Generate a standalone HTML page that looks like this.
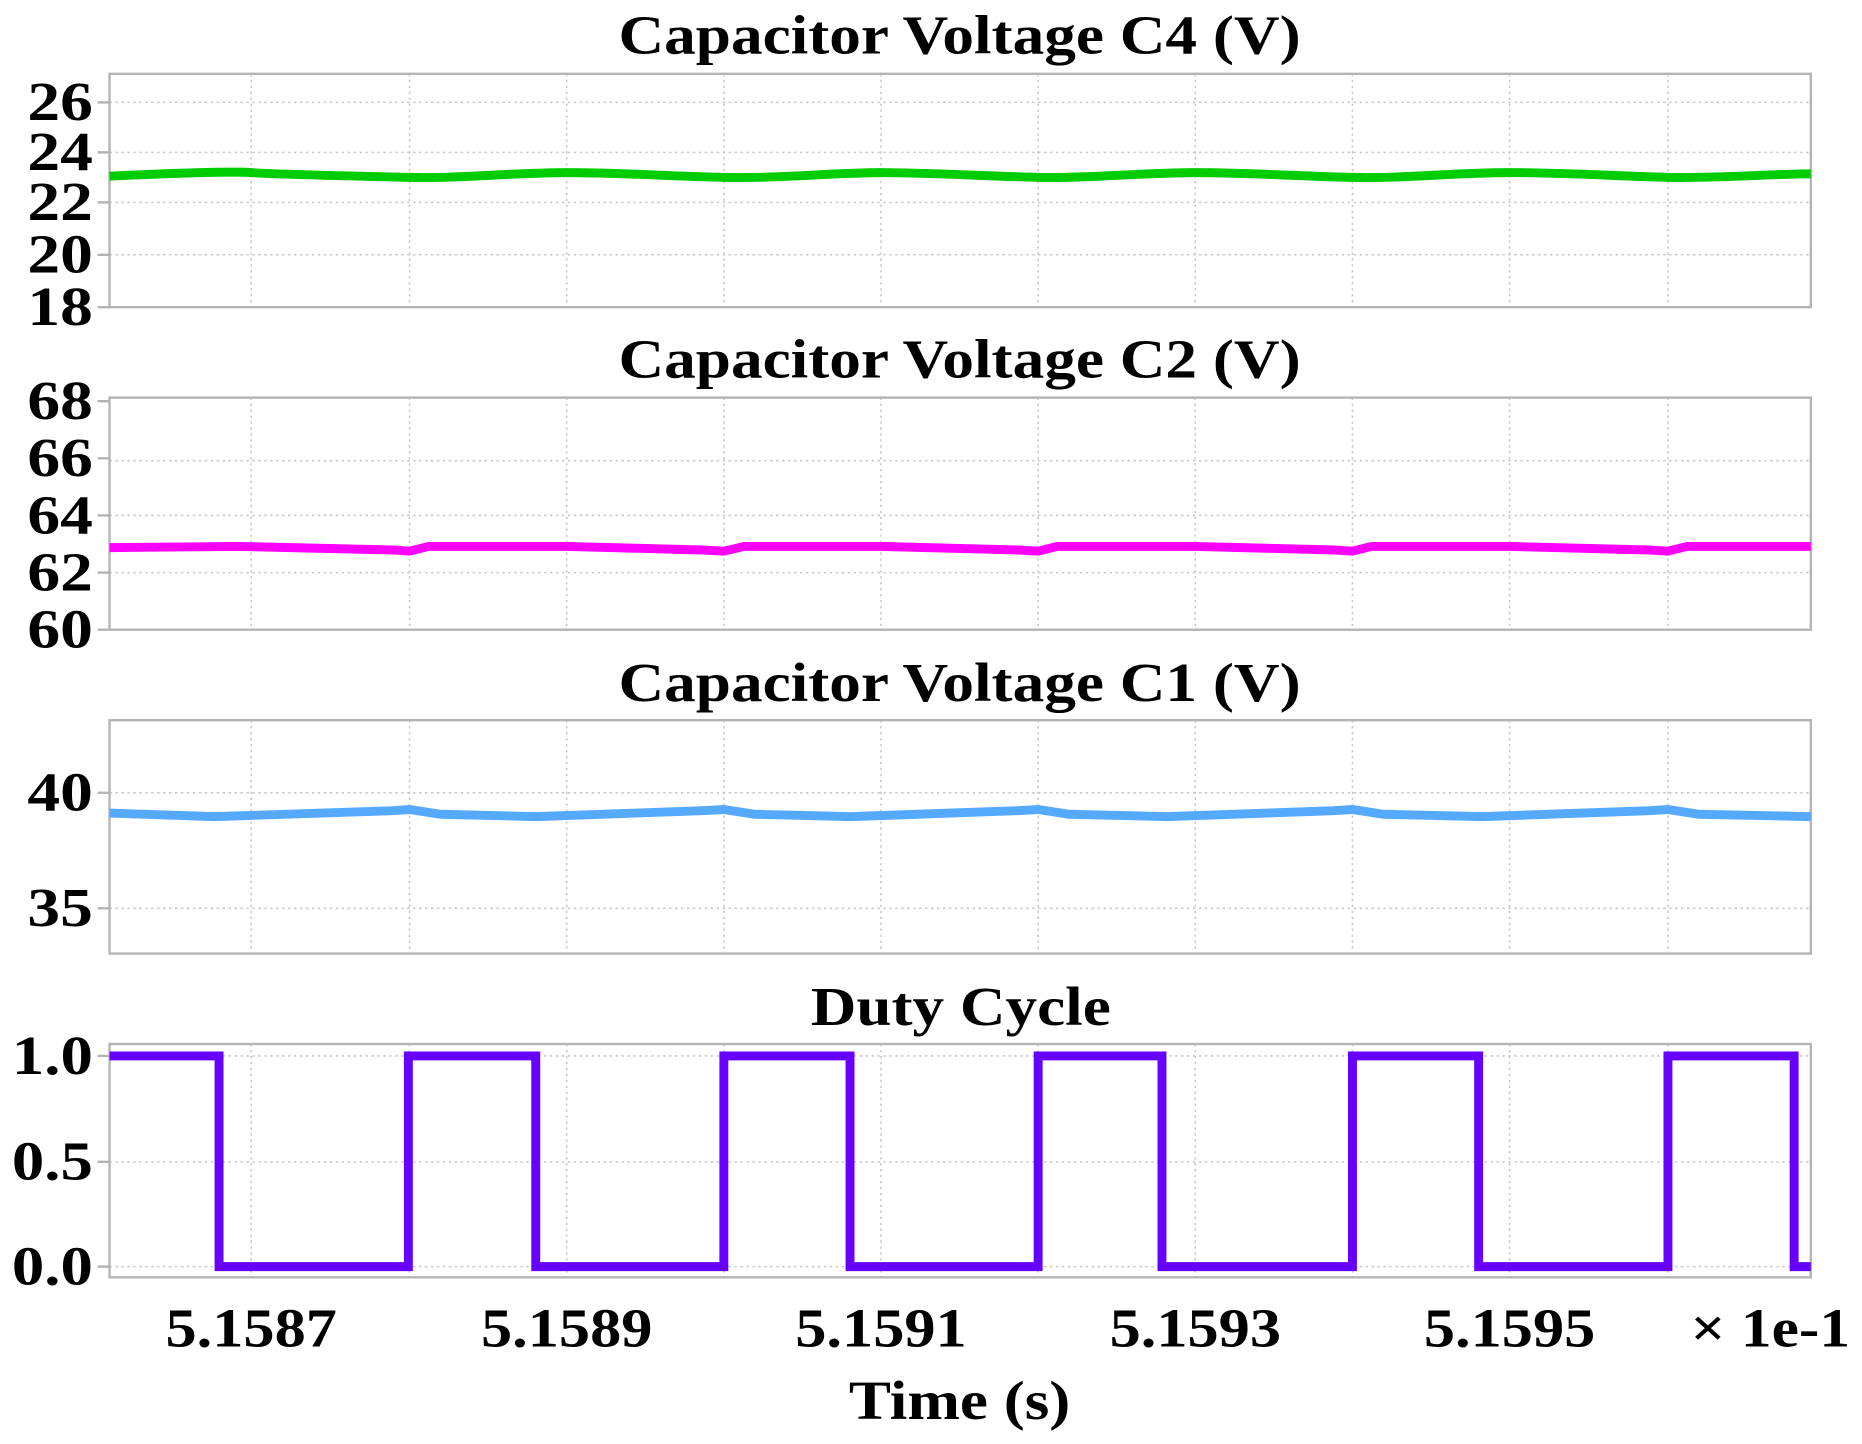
<!DOCTYPE html>
<html><head><meta charset="utf-8"><style>html,body{margin:0;padding:0;background:#fff}svg{display:block}</style></head>
<body>
<svg width="1862" height="1444" viewBox="0 0 1564 1213" preserveAspectRatio="none" xmlns="http://www.w3.org/2000/svg" font-family="Liberation Serif, serif" font-weight="bold">
<g font-size="46" text-anchor="middle" fill="#000" lengthAdjust="spacingAndGlyphs">
<text x="806" y="45" textLength="573" lengthAdjust="spacingAndGlyphs">Capacitor Voltage C4 (V)</text>
<text x="806" y="317" textLength="573" lengthAdjust="spacingAndGlyphs">Capacitor Voltage C2 (V)</text>
<text x="806" y="589" textLength="573" lengthAdjust="spacingAndGlyphs">Capacitor Voltage C1 (V)</text>
<text x="807" y="861" textLength="252" lengthAdjust="spacingAndGlyphs">Duty Cycle</text>
<text x="806" y="1192" textLength="186" lengthAdjust="spacingAndGlyphs">Time (s)</text>
</g>
<g stroke="#c8c8c8" stroke-width="1.3" stroke-dasharray="2,3">
<path d="M92 86H1521M92 128H1521M92 170H1521M92 214H1521"/>
<path d="M92 387H1521M92 433H1521M92 481H1521"/>
<path d="M92 666H1521M92 763H1521"/>
<path d="M92 887H1521M92 976H1521M92 1064H1521"/>
<path d="M211 62V258M344 62V258M476 62V258M608 62V258M740 62V258M872 62V258M1004 62V258M1136 62V258M1268 62V258M1401 62V258"/>
<path d="M211 334V529M344 334V529M476 334V529M608 334V529M740 334V529M872 334V529M1004 334V529M1136 334V529M1268 334V529M1401 334V529"/>
<path d="M211 605V801M344 605V801M476 605V801M608 605V801M740 605V801M872 605V801M1004 605V801M1136 605V801M1268 605V801M1401 605V801"/>
<path d="M211 877V1073M344 877V1073M476 877V1073M608 877V1073M740 877V1073M872 877V1073M1004 877V1073M1136 877V1073M1268 877V1073M1401 877V1073"/>
</g>
<g fill="none" stroke="#b4b4b4" stroke-width="2">
<rect x="92" y="62" width="1429" height="196"/>
<rect x="92" y="334" width="1429" height="195"/>
<rect x="92" y="605" width="1429" height="196"/>
<rect x="92" y="877" width="1429" height="196"/>
<path d="M82 86H92M82 128H92M82 170H92M82 214H92M82 258H92M82 337H92M82 385H92M82 433H92M82 481H92M82 529H92M82 666H92M82 763H92M82 887H92M82 976H92M82 1064H92"/>
</g>
<g font-size="46" text-anchor="end" fill="#000">
<text x="78" y="101" textLength="55" lengthAdjust="spacingAndGlyphs">26</text><text x="78" y="143" textLength="55" lengthAdjust="spacingAndGlyphs">24</text><text x="78" y="185" textLength="55" lengthAdjust="spacingAndGlyphs">22</text><text x="78" y="229" textLength="55" lengthAdjust="spacingAndGlyphs">20</text><text x="78" y="273" textLength="55" lengthAdjust="spacingAndGlyphs">18</text>
<text x="78" y="352" textLength="55" lengthAdjust="spacingAndGlyphs">68</text><text x="78" y="400" textLength="55" lengthAdjust="spacingAndGlyphs">66</text><text x="78" y="448" textLength="55" lengthAdjust="spacingAndGlyphs">64</text><text x="78" y="496" textLength="55" lengthAdjust="spacingAndGlyphs">62</text><text x="78" y="544" textLength="55" lengthAdjust="spacingAndGlyphs">60</text>
<text x="78" y="681" textLength="55" lengthAdjust="spacingAndGlyphs">40</text><text x="78" y="778" textLength="55" lengthAdjust="spacingAndGlyphs">35</text>
<text x="78" y="902" textLength="68" lengthAdjust="spacingAndGlyphs">1.0</text><text x="78" y="991" textLength="68" lengthAdjust="spacingAndGlyphs">0.5</text><text x="78" y="1079" textLength="68" lengthAdjust="spacingAndGlyphs">0.0</text>
</g>
<g font-size="46" text-anchor="middle" fill="#000">
<text x="211" y="1131" textLength="144" lengthAdjust="spacingAndGlyphs">5.1587</text><text x="476" y="1131" textLength="144" lengthAdjust="spacingAndGlyphs">5.1589</text><text x="740" y="1131" textLength="144" lengthAdjust="spacingAndGlyphs">5.1591</text><text x="1004" y="1131" textLength="144" lengthAdjust="spacingAndGlyphs">5.1593</text><text x="1268" y="1131" textLength="144" lengthAdjust="spacingAndGlyphs">5.1595</text>
<text x="1487" y="1131" textLength="134" lengthAdjust="spacingAndGlyphs">× 1e-1</text>
</g>
<path fill="none" stroke="#00cc00" stroke-width="7.5" d="M92 148C150 145 200 144 211 145S300 148 344 149S430 145 476 145S560 148 608 149S700 145 740 145S830 148 872 149S960 145 1004 145S1090 148 1136 149S1220 145 1268 145S1360 148 1401 149S1490 146 1521 146"/>
<path fill="none" stroke="#ff00ff" stroke-width="7.5" d="M92 460L200 459L330 462L344 463L360 459L476 459L590 462L608 463L625 459L740 459L855 462L872 463L888 459L1004 459L1120 462L1136 463L1152 459L1268 459L1385 462L1401 463L1417 459L1521 459"/>
<path fill="none" stroke="#55aaff" stroke-width="7.5" d="M92 683L180 686L330 681L344 680L370 684L450 686L590 681L608 680L634 684L714 686L855 681L872 680L898 684L980 686L1120 681L1136 680L1162 684L1245 686L1385 681L1401 680L1427 684L1521 686"/>
<path fill="none" stroke="#6600ff" stroke-width="7.5" d="M92 887H184V1064H343V887H450V1064H608V887H714V1064H872V887H976V1064H1136V887H1242V1064H1401V887H1507V1064H1521"/>
</svg>
</body></html>
